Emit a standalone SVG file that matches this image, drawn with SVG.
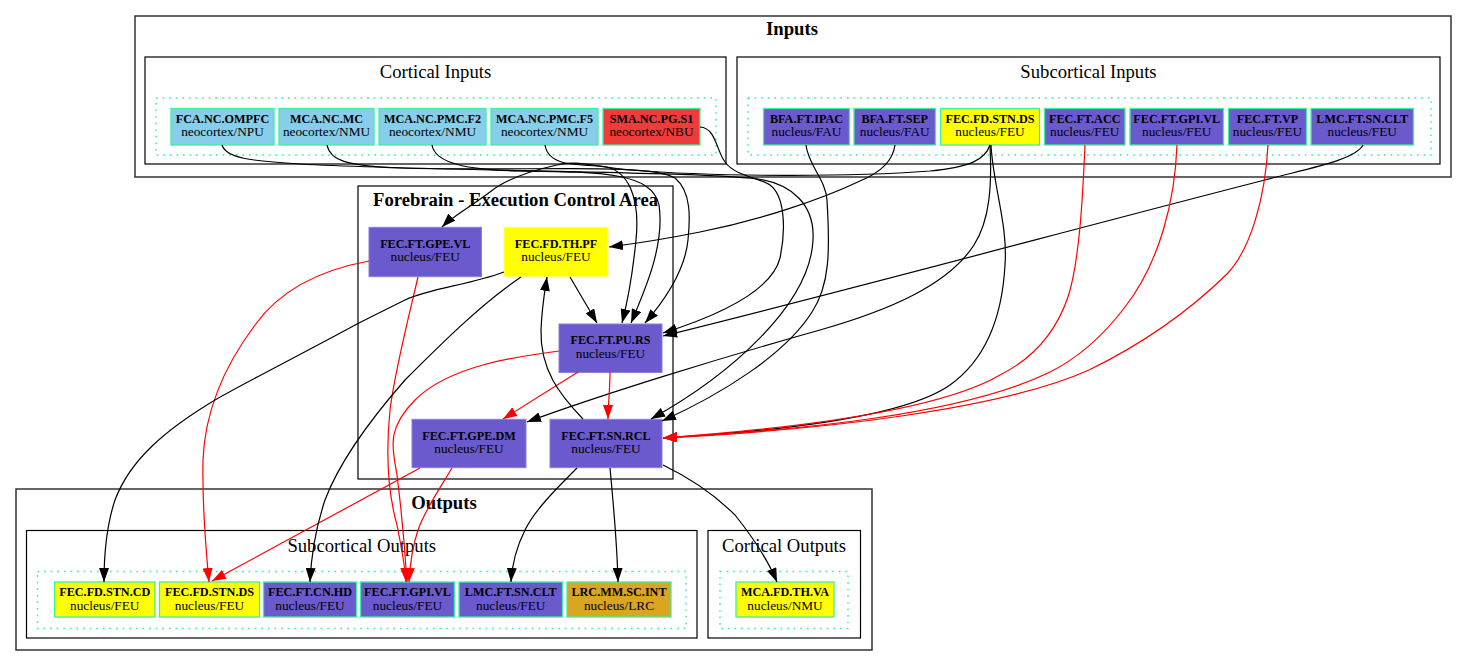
<svg xmlns="http://www.w3.org/2000/svg" width="1468" height="665" viewBox="0 0 1468 665">
<style>
.cl{fill:none;stroke:#000;stroke-width:1.2}
.outer{fill:none;stroke:#333;stroke-width:1.5}
.dot{fill:none;stroke:#2cf09c;stroke-width:1.4;stroke-dasharray:1.6 5}
.nb{stroke:#3cf0a0;stroke-width:1.3}
.sb{fill:#87ceeb}
.br{fill:#ee3b3b}
.sl{fill:#6a5acd}
.ye{fill:#ffff00}
.go{fill:#daa520}
.fsl{fill:#6a5acd;stroke:#8a7fe0;stroke-width:1}
.fye{fill:#ffff00;stroke:#ffff70;stroke-width:1}
.t1{font-family:"Liberation Serif",serif;font-weight:bold;font-size:12.2px;text-anchor:middle;fill:#000}
.t2{font-family:"Liberation Serif",serif;font-size:13.3px;text-anchor:middle;fill:#000}
.ct{font-family:"Liberation Serif",serif;font-size:18.67px;text-anchor:middle;fill:#000}
.ctb{font-family:"Liberation Serif",serif;font-size:18.67px;font-weight:bold;text-anchor:middle;fill:#000}
.e{fill:none;stroke:#000;stroke-width:1.2;marker-end:url(#ab)}
.r{fill:none;stroke:#ff0000;stroke-width:1.2;marker-end:url(#ar)}
</style>
<defs>
<marker id="ab" viewBox="0 0 14 10" refX="14" refY="5" markerWidth="14" markerHeight="10" markerUnits="userSpaceOnUse" orient="auto"><path d="M0,0 L14,5 L0,10 z" fill="#000"/></marker>
<marker id="ar" viewBox="0 0 14 10" refX="14" refY="5" markerWidth="14" markerHeight="10" markerUnits="userSpaceOnUse" orient="auto"><path d="M0,0 L14,5 L0,10 z" fill="#ff0000"/></marker>
</defs>
<rect width="1468" height="665" fill="#fff"/>

<g id="clusters">
<rect class="outer" x="135" y="16" width="1316" height="161"/>
<text class="ctb" x="792" y="35">Inputs</text>
<rect class="cl" x="145" y="57" width="581" height="107"/>
<text class="ct" x="435.5" y="78">Cortical Inputs</text>
<rect class="dot" x="156" y="98" width="560" height="57"/>
<rect class="cl" x="737" y="57" width="703" height="107"/>
<text class="ct" x="1088.5" y="78">Subcortical Inputs</text>
<rect class="dot" x="748" y="98" width="683" height="57"/>
<rect class="cl" x="358" y="186" width="315" height="293"/>
<text class="ctb" x="515.5" y="206">Forebrain - Execution Control Area</text>
<rect class="outer" x="16" y="489" width="856" height="161"/>
<text class="ctb" x="444" y="509">Outputs</text>
<rect class="cl" x="26.5" y="530.5" width="670.5" height="107.5"/>
<text class="ct" x="361.75" y="551.5">Subcortical Outputs</text>
<rect class="dot" x="37.5" y="571.5" width="648.5" height="57"/>
<rect class="cl" x="708" y="530.5" width="152.5" height="107.5"/>
<text class="ct" x="784" y="551.5">Cortical Outputs</text>
<rect class="dot" x="720" y="571.5" width="128" height="57"/>
</g>

<g id="in_FCA_NC_OMPFC"><rect class="sb nb" x="171" y="108.5" width="103" height="36.5"/><text class="t1" x="222.5" y="123">FCA.NC.OMPFC</text><text class="t2" x="222.5" y="136">neocortex/NPU</text></g>
<g id="in_MCA_NC_MC"><rect class="sb nb" x="279" y="108.5" width="95" height="36.5"/><text class="t1" x="326.5" y="123">MCA.NC.MC</text><text class="t2" x="326.5" y="136">neocortex/NMU</text></g>
<g id="in_MCA_NC_PMC_F2"><rect class="sb nb" x="379" y="108.5" width="107" height="36.5"/><text class="t1" x="432.5" y="123">MCA.NC.PMC.F2</text><text class="t2" x="432.5" y="136">neocortex/NMU</text></g>
<g id="in_MCA_NC_PMC_F5"><rect class="sb nb" x="491" y="108.5" width="107" height="36.5"/><text class="t1" x="544.5" y="123">MCA.NC.PMC.F5</text><text class="t2" x="544.5" y="136">neocortex/NMU</text></g>
<g id="in_SMA_NC_PG_S1"><rect class="br nb" x="603" y="108.5" width="97" height="36.5"/><text class="t1" x="651.5" y="123">SMA.NC.PG.S1</text><text class="t2" x="651.5" y="136">neocortex/NBU</text></g>
<g id="in_BFA_FT_IPAC"><rect class="sl nb" x="763.5" y="108.5" width="86" height="36.5"/><text class="t1" x="806.5" y="123">BFA.FT.IPAC</text><text class="t2" x="806.5" y="136">nucleus/FAU</text></g>
<g id="in_BFA_FT_SEP"><rect class="sl nb" x="854" y="108.5" width="81.5" height="36.5"/><text class="t1" x="894.75" y="123">BFA.FT.SEP</text><text class="t2" x="894.75" y="136">nucleus/FAU</text></g>
<g id="in_FEC_FD_STN_DS"><rect class="ye nb" x="940.5" y="108.5" width="99" height="36.5"/><text class="t1" x="990" y="123">FEC.FD.STN.DS</text><text class="t2" x="990" y="136">nucleus/FEU</text></g>
<g id="in_FEC_FT_ACC"><rect class="sl nb" x="1044.5" y="108.5" width="80.5" height="36.5"/><text class="t1" x="1084.75" y="123">FEC.FT.ACC</text><text class="t2" x="1084.75" y="136">nucleus/FEU</text></g>
<g id="in_FEC_FT_GPI_VL"><rect class="sl nb" x="1130" y="108.5" width="93.5" height="36.5"/><text class="t1" x="1176.75" y="123">FEC.FT.GPI.VL</text><text class="t2" x="1176.75" y="136">nucleus/FEU</text></g>
<g id="in_FEC_FT_VP"><rect class="sl nb" x="1228.5" y="108.5" width="78" height="36.5"/><text class="t1" x="1267.5" y="123">FEC.FT.VP</text><text class="t2" x="1267.5" y="136">nucleus/FEU</text></g>
<g id="in_LMC_FT_SN_CLT"><rect class="sl nb" x="1311" y="108.5" width="102.5" height="36.5"/><text class="t1" x="1362.25" y="123">LMC.FT.SN.CLT</text><text class="t2" x="1362.25" y="136">nucleus/FEU</text></g>

<g id="FEC_FT_GPE_VL"><rect class="fsl" x="369" y="227.3" width="112.5" height="49.4"/><text class="t1" x="425.25" y="247.5">FEC.FT.GPE.VL</text><text class="t2" x="425.25" y="261">nucleus/FEU</text></g>
<g id="FEC_FD_TH_PF"><rect class="fye" x="504" y="227.3" width="104" height="49.4"/><text class="t1" x="556" y="247.5">FEC.FD.TH.PF</text><text class="t2" x="556" y="261">nucleus/FEU</text></g>
<g id="FEC_FT_PU_RS"><rect class="fsl" x="559" y="324" width="103" height="48.5"/><text class="t1" x="610.5" y="344">FEC.FT.PU.RS</text><text class="t2" x="610.5" y="357.5">nucleus/FEU</text></g>
<g id="FEC_FT_GPE_DM"><rect class="fsl" x="412" y="419.3" width="114" height="48.4"/><text class="t1" x="469" y="439.5">FEC.FT.GPE.DM</text><text class="t2" x="469" y="453">nucleus/FEU</text></g>
<g id="FEC_FT_SN_RCL"><rect class="fsl" x="550" y="419.3" width="112" height="48.4"/><text class="t1" x="606" y="439.5">FEC.FT.SN.RCL</text><text class="t2" x="606" y="453">nucleus/FEU</text></g>

<g id="out_FEC_FD_STN_CD"><rect class="ye nb" x="54.5" y="582" width="100.5" height="35"/><text class="t1" x="104.75" y="596">FEC.FD.STN.CD</text><text class="t2" x="104.75" y="609.5">nucleus/FEU</text></g>
<g id="out_FEC_FD_STN_DS"><rect class="ye nb" x="159.5" y="582" width="100" height="35"/><text class="t1" x="209.5" y="596">FEC.FD.STN.DS</text><text class="t2" x="209.5" y="609.5">nucleus/FEU</text></g>
<g id="out_FEC_FT_CN_HD"><rect class="sl nb" x="263.5" y="582" width="93" height="35"/><text class="t1" x="310" y="596">FEC.FT.CN.HD</text><text class="t2" x="310" y="609.5">nucleus/FEU</text></g>
<g id="out_FEC_FT_GPI_VL"><rect class="sl nb" x="360.5" y="582" width="94" height="35"/><text class="t1" x="407.5" y="596">FEC.FT.GPI.VL</text><text class="t2" x="407.5" y="609.5">nucleus/FEU</text></g>
<g id="out_LMC_FT_SN_CLT"><rect class="sl nb" x="459" y="582" width="103.5" height="35"/><text class="t1" x="510.75" y="596">LMC.FT.SN.CLT</text><text class="t2" x="510.75" y="609.5">nucleus/FEU</text></g>
<g id="out_LRC_MM_SC_INT"><rect class="go nb" x="567" y="582" width="104" height="35"/><text class="t1" x="619" y="596">LRC.MM.SC.INT</text><text class="t2" x="619" y="609.5">nucleus/LRC</text></g>
<g id="out_MCA_FD_TH_VA"><rect class="ye nb" x="736" y="582" width="98" height="35"/><text class="t1" x="785" y="596">MCA.FD.TH.VA</text><text class="t2" x="785" y="609.5">nucleus/NMU</text></g>

<g id="connectors">
<path class="e" d="M222,145 C226,158 250,161 300,164 C420,171 690,171 758,179 C792,184 815,205 813,240 C810,305 730,375 651,419"/>
<path class="e" d="M327,145 C330,160 345,166 400,168 C520,172 650,162 675,178 C692,192 690,220 688,240 C685,270 665,300 645,323"/>
<path class="e" d="M432,145 C435,164 470,170 520,171 C600,172 652,172 659,205 C665,245 645,290 631,323"/>
<path class="e" d="M545,145 C548,164 570,165 600,166 C630,168 640,200 636,240 C633,270 628,300 622,323"/>
<path class="e" d="M700,127 C716,128 716,150 725,162 C735,176 760,178 770,185 C785,196 786,230 780,258 C772,290 720,315 663,333"/>
<path class="e" d="M1363,145 C1355,160 1310,168 1265,180 C1100,222 850,290 663,336"/>
<path class="e" d="M806,145 C808,165 826,180 827,200 C830,250 830,285 812,312 C785,355 720,395 662,421"/>
<path class="e" d="M895,145 C893,160 882,172 860,181 C820,200 760,220 700,232 C670,238 640,243 609,247"/>
<path class="e" d="M990,145 C985,160 970,167 930,171 C850,177 720,177 630,170 C590,166 575,160 557,165 C525,172 505,180 490,192 C470,207 452,217 442,227"/>
<path class="e" d="M990,145 C992,185 990,220 974,245 C948,285 890,310 820,330 C720,358 600,395 527,422"/>
<path class="e" d="M991,145 C993,185 1008,225 1005,265 C1002,320 985,360 950,385 C900,420 760,432 663,438"/>
<path class="r" d="M1085,145 C1083,190 1080,260 1068,297 C1055,335 1030,360 1000,375 C940,410 800,428 663,438"/>
<path class="r" d="M1177,145 C1175,200 1160,262 1125,307 C1100,340 1075,360 1048,373 C960,415 800,430 663,438"/>
<path class="r" d="M1268,145 C1265,200 1250,250 1227,274 C1180,320 1130,350 1089,370 C1000,410 820,430 663,438"/>
<path class="e" d="M570,277 L597,323"/>
<path class="r" d="M578,372 L503,419"/>
<path class="r" d="M610,372 C610,390 608,405 608,419"/>
<path class="e" d="M583,419 C560,395 540,370 541,330 C542,305 545,290 547,277"/>
<path class="r" d="M559,351 C520,356 450,365 415,400 C385,430 393,450 397,475 C402,515 405,550 407,582"/>
<path class="r" d="M369,261 C320,270 280,290 255,325 C225,365 205,410 203,460 C202,510 206,550 209,582"/>
<path class="r" d="M418,277 C408,320 395,370 390,410 C385,460 390,500 397,525 C402,550 405,565 406,582"/>
<path class="r" d="M420,468 L212,581"/>
<path class="r" d="M452,468 C440,488 425,510 418,530 C412,548 410,565 409,582"/>
<path class="e" d="M504,272 C470,285 430,288 405,300 C385,310 375,315 357,324 C300,355 250,380 215,400 C165,430 130,460 115,500 C105,530 104,560 104,582"/>
<path class="e" d="M521,277 C480,305 440,345 405,380 C370,420 340,460 325,500 C315,530 311,560 310,582"/>
<path class="e" d="M577,468 C555,490 535,510 525,530 C515,550 512,565 511,582"/>
<path class="e" d="M610,468 C613,500 617,540 618,582"/>
<path class="e" d="M663,465 C690,478 715,495 735,515 C755,540 770,565 777,582"/>
</g>
</svg>
